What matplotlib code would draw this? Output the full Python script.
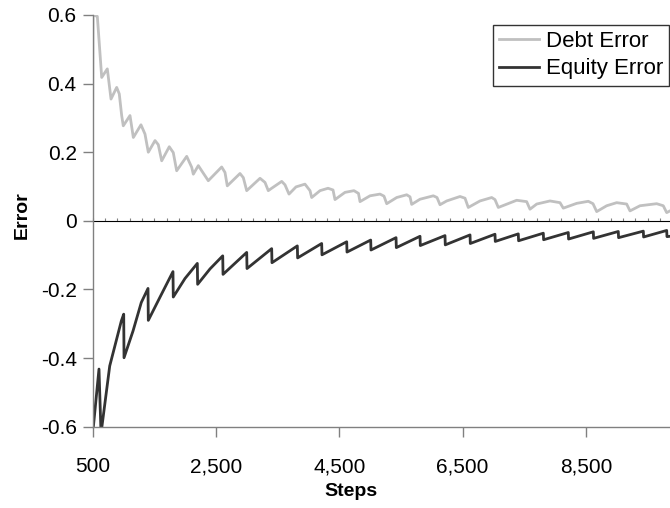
import matplotlib
matplotlib.use('Agg')
import matplotlib.pyplot as plt
from matplotlib.ticker import MultipleLocator, NullFormatter

# data (steps, error)
debt_steps = [500, 505, 575, 607, 646, 737, 797, 889, 931, 970, 996, 1105, 1159,
              1283, 1348, 1402, 1511, 1564, 1619, 1742, 1807, 1862, 2025, 2106, 2132,
              2213, 2268, 2375, 2592, 2646, 2683, 2889, 2943, 2998, 3214, 3295, 3348,
              3403, 3566, 3619, 3684, 3798, 3943, 4025, 4052, 4187, 4317, 4398, 4430,
              4592, 4738, 4811, 4836, 4998, 5160, 5225, 5269, 5431, 5593, 5647, 5674,
              5809, 6025, 6085, 6133, 6242, 6458, 6539, 6592, 6782, 6972, 7025, 7079,
              7377, 7539, 7593, 7702, 7917, 8080, 8133, 8350, 8539, 8615, 8675, 8837,
              8999, 9161, 9215, 9377, 9648, 9755, 9810, 9864]
debt_error = [0.327, 0.600, 0.596, 0.516, 0.418, 0.443, 0.355, 0.389, 0.370, 0.307, 0.277, 0.307, 0.243,
              0.280, 0.253, 0.200, 0.234, 0.222, 0.175, 0.216, 0.199, 0.146, 0.188, 0.156, 0.136,
              0.161, 0.146, 0.117, 0.157, 0.141, 0.102, 0.138, 0.126, 0.088, 0.124, 0.112, 0.088,
              0.095, 0.115, 0.105, 0.078, 0.099, 0.107, 0.088, 0.068, 0.088, 0.095, 0.090, 0.062,
              0.083, 0.088, 0.080, 0.056, 0.073, 0.078, 0.072, 0.050, 0.068, 0.076, 0.070, 0.048,
              0.063, 0.073, 0.068, 0.047, 0.058, 0.071, 0.066, 0.039, 0.058, 0.068, 0.062, 0.039,
              0.060, 0.056, 0.034, 0.049, 0.058, 0.053, 0.037, 0.051, 0.057, 0.050, 0.027, 0.044,
              0.053, 0.049, 0.029, 0.044, 0.050, 0.044, 0.024, 0.029]

equity_steps = [500, 602, 635, 776, 964, 1003, 1008, 1154, 1288, 1397, 1402, 1587, 1802,
                1807, 1997, 2197, 2202, 2403, 2609, 2614, 2998, 3003, 3403, 3408, 3819,
                3824, 4214, 4219, 4620, 4625, 5009, 5014, 5420, 5425, 5809, 5814, 6214,
                6219, 6620, 6625, 7025, 7030, 7403, 7408, 7809, 7814, 8214, 8219, 8620,
                8625, 9025, 9030, 9431, 9436, 9810, 9815, 9864]
equity_error = [-0.620, -0.432, -0.620, -0.423, -0.292, -0.272, -0.399, -0.321, -0.238, -0.197, -0.290, -0.224, -0.148,
                -0.222, -0.168, -0.124, -0.185, -0.140, -0.102, -0.156, -0.092, -0.139, -0.081, -0.122, -0.073,
                -0.108, -0.066, -0.099, -0.061, -0.091, -0.056, -0.085, -0.049, -0.078, -0.045, -0.072, -0.043,
                -0.070, -0.041, -0.066, -0.039, -0.060, -0.038, -0.058, -0.036, -0.055, -0.034, -0.053, -0.032,
                -0.051, -0.031, -0.049, -0.030, -0.047, -0.028, -0.046, -0.045]

x_ticks = [500, 2500, 4500, 6500, 8500]
y_ticks = [-0.6, -0.4, -0.2, 0, 0.2, 0.4, 0.6]
y_labels = ['-0.6', '-0.4', '-0.2', '0', '0.2', '0.4', '0.6']

plt.rcParams['font.family'] = ['Liberation Sans', 'DejaVu Sans']

fig = plt.figure(figsize=(6.7, 5.08), dpi=100)
ax = fig.add_axes([92.7 / 670, 81.3 / 508, 577.3 / 670, 411.7 / 508])

ax.plot(debt_steps, debt_error, color='#c0c0c0', lw=2, label='Debt Error')
ax.plot(equity_steps, equity_error, color='#333333', lw=2, label='Equity Error')

ax.set_xlim(500, 9864)
ax.set_ylim(-0.6, 0.6)

# zero line carries small category ticks
zero = ax.secondary_xaxis(0.5)
zero.spines['bottom'].set_color('#333333')
zero.spines['bottom'].set_linewidth(2)
zero.xaxis.set_major_locator(MultipleLocator(200, offset=100))
zero.xaxis.set_major_formatter(NullFormatter())
zero.tick_params(length=2, width=0.8, color='#808080')

for side in ['top', 'right']:
	ax.spines[side].set_visible(False)
for side in ['left', 'bottom']:
	ax.spines[side].set_color('#808080')
	ax.spines[side].set_linewidth(1)

ax.set_xticks(x_ticks)
ax.set_xticklabels([f'{v:,}' for v in x_ticks])
ax.set_yticks(y_ticks)
ax.set_yticklabels(y_labels)
ax.tick_params(axis='both', length=7, width=1, color='#808080', labelsize=15)
ax.tick_params(axis='x', pad=15)
ax.tick_params(axis='y', pad=4.5)

ax.set_xlabel('Steps', fontsize=14, fontweight='bold')
ax.xaxis.label.set_va('center')
ax.xaxis.set_label_coords(0.447, -0.157)
ax.set_ylabel('Error', fontsize=14, fontweight='bold')
ax.yaxis.label.set_va('center')
ax.yaxis.set_label_coords(-0.122, 0.513)

legend = ax.legend(loc='upper right', bbox_to_anchor=(669.3 / 670, 1 - 25 / 508),
                   bbox_transform=fig.transFigure, borderaxespad=0, fontsize=16,
                   frameon=True, fancybox=False, handlelength=1.8, handletextpad=0.3,
                   labelspacing=0.28, borderpad=0.28)
legend.get_frame().set_edgecolor('black')
legend.get_frame().set_linewidth(1)

fig.savefig('out.png', dpi=100)
